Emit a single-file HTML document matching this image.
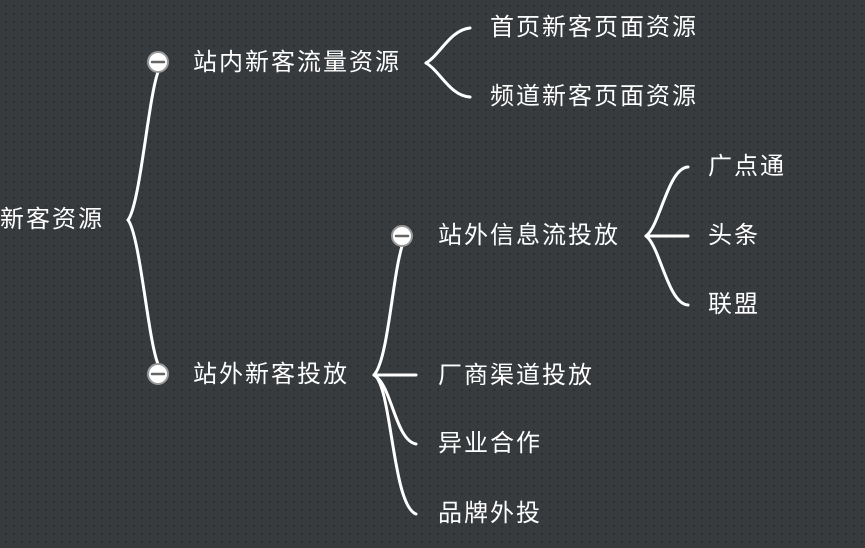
<!DOCTYPE html>
<html><head><meta charset="utf-8"><style>
html,body{margin:0;padding:0}
body{width:865px;height:548px;overflow:hidden;background-color:#373b3e;
background-image:radial-gradient(circle,#2c2f31 1px,transparent 1.3px);background-size:8px 8px;background-position:2px 2px;position:relative;
font-family:"Liberation Sans","Noto Sans CJK SC",sans-serif;}
.t{position:absolute;color:#fff;font-size:24px;letter-spacing:2px;line-height:30px;white-space:nowrap;transform:translateY(-50%)}
svg{position:absolute;left:0;top:0}
</style></head><body>
<svg width="865" height="548" fill="none" stroke="#fff" stroke-width="3" stroke-linecap="round">
<path d="M128 220 C140 205,148 100,158 72"/>
<path d="M128 220 C140 235,148 340,158 364"/>
<path d="M426 63 C440 55,450 30,470 28"/>
<path d="M426 63 C440 71,450 96,470 97"/>
<path d="M646 236 C660 226,668 168,688 167"/>
<path d="M646 236 L688 236"/>
<path d="M646 236 C660 246,668 304,688 305"/>
<path d="M374 375 C388 360,392 280,402 246"/>
<path d="M374 375 L416 375"/>
<path d="M374 375 C392 385,395 440,416 444"/>
<path d="M374 375 C392 385,392 505,416 514"/>
<g stroke-width="2"><circle cx="158" cy="62" r="10" fill="#fff" stroke="#999"/><circle cx="158" cy="374" r="10" fill="#fff" stroke="#999"/><circle cx="402" cy="236" r="10" fill="#fff" stroke="#999"/>
<path d="M152 62h12M152 374h12M396 236h12" stroke="#666" stroke-width="2.5"/></g>
</svg>
<div class="t" style="left:0;top:220px">新客资源</div>
<div class="t" style="left:193px;top:63px">站内新客流量资源</div>
<div class="t" style="left:490px;top:28px">首页新客页面资源</div>
<div class="t" style="left:490px;top:97px">频道新客页面资源</div>
<div class="t" style="left:193px;top:375px">站外新客投放</div>
<div class="t" style="left:438px;top:236px">站外信息流投放</div>
<div class="t" style="left:708px;top:167px">广点通</div>
<div class="t" style="left:708px;top:236px">头条</div>
<div class="t" style="left:708px;top:305px">联盟</div>
<div class="t" style="left:438px;top:376px">厂商渠道投放</div>
<div class="t" style="left:438px;top:444px">异业合作</div>
<div class="t" style="left:438px;top:514px">品牌外投</div>
</body></html>
